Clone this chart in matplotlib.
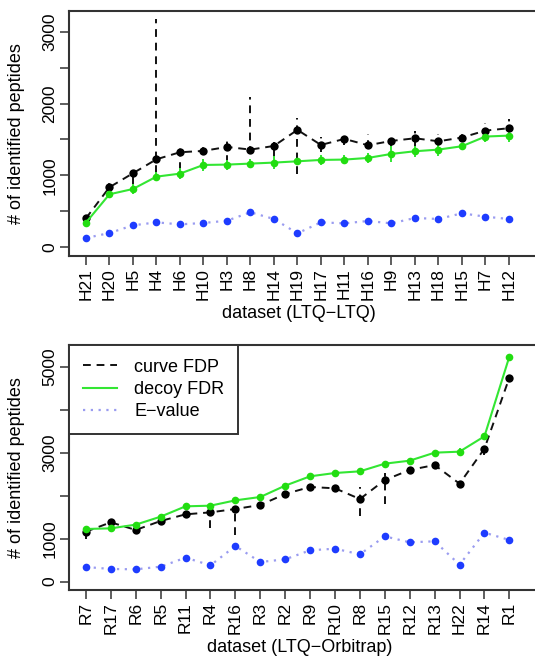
import matplotlib
matplotlib.use('Agg')
import matplotlib.pyplot as plt
import numpy as np

plt.rcParams['font.family'] = ['Liberation Sans', 'DejaVu Sans']

# ---- top panel: LTQ-LTQ
h_names = ['H21', 'H20', 'H5', 'H4', 'H6', 'H10', 'H3', 'H8', 'H14', 'H19',
           'H17', 'H11', 'H16', 'H9', 'H13', 'H18', 'H15', 'H7', 'H12']
h_curve = [400, 833, 1028, 1223, 1321, 1340, 1395, 1358, 1409, 1633,
           1423, 1507, 1419, 1479, 1516, 1474, 1526, 1623, 1656]
h_curve_lo = [350, 780, 880, 1030, 1080, 1280, 1170, 1290, 1260, 1020,
              1330, 1420, 1380, 1400, 1400, 1380, 1460, 1540, 1560]
h_curve_hi = [450, 950, 1050, 3180, 1400, 1420, 1490, 2090, 1470, 1800,
              1530, 1580, 1580, 1560, 1620, 1580, 1600, 1730, 1780]
h_decoy = [340, 735, 809, 981, 1023, 1144, 1149, 1163, 1177, 1195,
           1214, 1219, 1242, 1298, 1335, 1358, 1405, 1540, 1553]
h_decoy_err = [40, 50, 70, 60, 80, 90, 70, 60, 90, 50,
               70, 60, 70, 110, 80, 90, 50, 70, 90]
h_evalue = [126, 195, 302, 344, 316, 335, 367, 484, 391, 191,
            344, 330, 363, 330, 405, 391, 470, 423, 391]

# ---- bottom panel: LTQ-Orbitrap
r_names = ['R7', 'R17', 'R6', 'R5', 'R11', 'R4', 'R16', 'R3', 'R2', 'R9',
           'R10', 'R8', 'R15', 'R12', 'R13', 'H22', 'R14', 'R1']
r_curve = [1163, 1380, 1202, 1411, 1566, 1612, 1690, 1783, 2039, 2202,
           2171, 1922, 2364, 2597, 2713, 2279, 3093, 4744]
r_curve_lo = [1000, 1330, 1150, 1370, 1520, 1240, 1085, 1740, 1990, 2160,
              2130, 1535, 1806, 2550, 2670, 2230, 2950, 4700]
r_curve_hi = [1220, 1430, 1250, 1450, 1610, 1650, 1730, 1830, 2080, 2250,
              2210, 2210, 2520, 2640, 2760, 2330, 3250, 4790]
r_decoy = [1225, 1240, 1326, 1512, 1752, 1767, 1891, 1969, 2233, 2450,
           2527, 2566, 2744, 2814, 3000, 3023, 3380, 5233]
r_decoy_err = [70, 40, 40, 40, 50, 40, 40, 40, 40, 40,
               40, 40, 40, 40, 40, 90, 50, 40]
r_evalue = [341, 295, 287, 349, 558, 380, 829, 457, 519, 729,
            767, 636, 1054, 915, 938, 395, 1140, 969]

BLACK = '#111111'
GREEN = '#33e633'
GREEN_PT = '#22dd11'
BLUE_LINE = '#9a9cf0'
BLUE_PT = '#1e3cff'
FS = 13
TFS = 12.5

fig = plt.figure(figsize=(5.35, 6.59), dpi=100)
ax1 = fig.add_axes([69/535, 1-256/659, 466/535, 245/659])
ax2 = fig.add_axes([69/535, 1-590/659, 466/535, 245/659])


def panel(ax, names, curve, c_lo, c_hi, decoy, d_err, evalue, xlim, ylim,
          yticks, ylabels, xlabel, xlab_y):
    x = np.arange(1, len(names) + 1)
    decoy = np.array(decoy)
    d_err = np.array(d_err)
    ax.vlines(x, c_lo, c_hi, colors=BLACK, linestyles=(0, (4, 3)), lw=1.4, zorder=2)
    ax.vlines(x, decoy - d_err, decoy + d_err, colors=GREEN, lw=1.4, zorder=3)
    ax.plot(x, evalue, color=BLUE_LINE, ls=(0, (1, 2.5)), lw=1.6, zorder=2)
    ax.plot(x, evalue, 'o', color=BLUE_PT, ms=5.5, mec='none', zorder=4)
    ax.plot(x, curve, color=BLACK, ls=(0, (4, 3)), lw=1.4, zorder=3)
    ax.plot(x, curve, 'o', color='black', ms=6, mec='none', zorder=4)
    ax.plot(x, decoy, color=GREEN, lw=1.5, zorder=4)
    ax.plot(x, decoy, 'o', color=GREEN_PT, ms=5.5, mec='none', zorder=5)

    ax.set_xlim(xlim)
    ax.set_ylim(ylim)
    ax.set_xticks(x)
    ax.set_xticklabels(names, rotation=90, fontsize=TFS)
    ax.set_yticks(yticks)
    ax.set_yticklabels(ylabels, rotation=90, va='center', fontsize=TFS)
    ax.tick_params(direction='out', length=6.5, width=1.1, color='#333333', pad=2)
    for s in ['left', 'top', 'bottom']:
        ax.spines[s].set_linewidth(1.5)
        ax.spines[s].set_color('#333333')
    ax.spines['right'].set_visible(False)
    ax.set_xlabel(xlabel, fontsize=FS, va='center')
    ax.xaxis.set_label_coords(0.494, xlab_y)
    ax.set_ylabel('# of identified peptides', fontsize=FS, va='center')
    ax.yaxis.set_label_coords(-0.112, 0.5)


panel(ax1, h_names, h_curve, h_curve_lo, h_curve_hi, h_decoy, h_decoy_err, h_evalue,
      (0.28, 20.11), (-125, 3290),
      [0, 500, 1000, 1500, 2000, 2500, 3000], ['0', '', '1000', '', '2000', '', '3000'],
      'dataset (LTQ\u2212LTQ)', -0.236)

panel(ax2, r_names, r_curve, r_curve_lo, r_curve_hi, r_decoy, r_decoy_err, r_evalue,
      (0.32, 19.03), (-194, 5504),
      [0, 1000, 2000, 3000, 4000, 5000], ['0', '1000', '', '3000', '', '5000'],
      'dataset (LTQ\u2212Orbitrap)', -0.236)

handles = [
    plt.Line2D([], [], color=BLACK, ls=(0, (4, 3)), lw=1.4),
    plt.Line2D([], [], color=GREEN, lw=1.5),
    plt.Line2D([], [], color=BLUE_LINE, ls=(0, (1, 2.5)), lw=1.6),
]
leg = ax2.legend(handles, ['curve FDP', 'decoy FDR', 'E\u2212value'], loc='upper left',
                 borderaxespad=0, fancybox=False, framealpha=1, edgecolor='#333333',
                 fontsize=FS, handlelength=1.9, handletextpad=0.95, borderpad=0.75,
                 labelspacing=0.3)
leg.get_frame().set_linewidth(1.4)

fig.savefig('out.png', dpi=100)
